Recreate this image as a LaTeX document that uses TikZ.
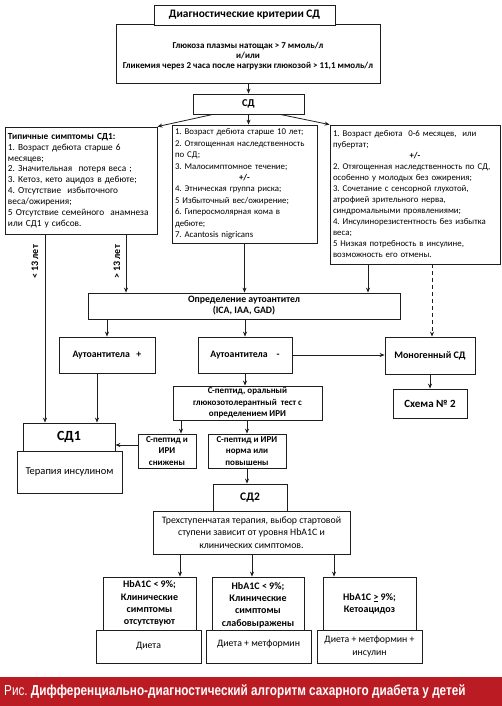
\documentclass[tikz,border=0pt]{standalone}
\usepackage{fontspec}
\setmainfont{Carlito}
\newfontfamily\capfont[FakeStretch=0.81]{Liberation Sans}
\usetikzlibrary{arrows.meta,calc}
\definecolor{capred}{RGB}{187,28,36}
\definecolor{ln}{RGB}{30,30,30}
\begin{document}
\frenchspacing
\begin{tikzpicture}[x=1pt,y=-1pt,
  box/.style={draw=ln, line width=0.8pt, fill=white, inner sep=0pt, align=center},
  listbox/.style={box, inner xsep=3pt, align=left},
  arr/.style={draw=ln, line width=0.8pt, -{Stealth[length=5pt,width=4pt]}},
  lbl/.style={font=\bfseries\fontsize{10}{12}\selectfont, rotate=90, inner sep=0pt},
  bsmall/.style={font=\bfseries\fontsize{9}{11.5}\selectfont},
  bmid/.style={font=\bfseries\fontsize{10}{12.3}\selectfont},
  nmid/.style={font=\fontsize{9.8}{12.5}\selectfont}]
\useasboundingbox (0,0) rectangle (502,706);
\fill[white] (0,0) rectangle (502,706);

% top
\node[box, minimum width=264pt, minimum height=59pt, font=\bfseries\fontsize{9}{10}\selectfont] (crit) at (248,53.5)
  {\rule{0pt}{11pt}Глюкоза плазмы натощак > 7 ммоль/л\\и/или\\Гликемия через 2 часа после нагрузки глюкозой > 11,1 ммоль/л};
\node[box, minimum width=181pt, minimum height=20pt, font=\bfseries\fontsize{11.4}{13}\selectfont] (title) at (244.5,15) {Диагностические критерии СД};
\node[box, minimum width=111pt, minimum height=20pt, font=\bfseries\fontsize{10.5}{12}\selectfont] (sd) at (248.5,104) {СД};

% three columns
\node[listbox, text width=146pt, minimum height=107pt, font=\fontsize{9.3}{10.9}\selectfont] (left) at (81,180.5)
  {{\bfseries Типичные симптомы СД1:}\\
   1. Возраст дебюта старше 6\\
   месяцев;\\
   2. Значительная~ потеря веса ;\\
   3. Кетоз, кето ацидоз в дебюте;\\
   4. Отсутствие~ избыточного\\
   веса/ожирения;\\
   5 Отсутствие семейного~ анамнеза\\
   или СД1 у сибсов.};
\node[listbox, text width=139pt, minimum height=118pt, font=\fontsize{8.8}{11.4}\selectfont] (mid) at (244.5,184)
  {1. Возраст дебюта старше 10 лет;\\
   2. Отягощенная наследственность\\
   по СД;\\
   3. Малосимптомное течение;\\
   \makebox[\linewidth]{\bfseries +/-}\\
   4. Этническая группа риска;\\
   5 Избыточный вес/ожирение;\\
   6. Гиперосмолярная кома в\\
   дебюте;\\
   7. Acantosis nigricans};
\node[listbox, text width=164pt, minimum height=139pt, font=\fontsize{8.8}{11}\selectfont] (right) at (415,194.5)
  {1. Возраст дебюта~ 0-6 месяцев,~ или\\
   пубертат;\\
   \makebox[\linewidth]{\bfseries +/-}\\
   2. Отягощенная наследственность по СД,\\
   особенно у молодых без ожирения;\\
   3. Сочетание с сенсорной глухотой,\\
   атрофией зрительного нерва,\\
   синдромальными проявлениями;\\
   4. Инсулинорезистентность без избытка\\
   веса;\\
   5 Низкая потребность в инсулине,\\
   возможность его отмены.};

% autoantibodies
\node[box, minimum width=312pt, minimum height=26pt, font=\bfseries\fontsize{9.8}{11}\selectfont] (opr) at (244,306)
  {Определение аутоантител\\(ICA, IAA, GAD)};
\node[box, minimum width=96pt, minimum height=36pt, font=\bfseries\fontsize{9.8}{11}\selectfont] (apos) at (107,355) {Аутоантитела~~ +};
\node[box, minimum width=94pt, minimum height=36pt, font=\bfseries\fontsize{9.8}{11}\selectfont] (aneg) at (245,355) {Аутоантитела~~~ -};
\node[box, minimum width=90pt, minimum height=37pt, font=\bfseries\fontsize{10}{11}\selectfont] (mono) at (430,355.5) {Моногенный СД};
\node[box, minimum width=74pt, minimum height=29pt, font=\bfseries\fontsize{11}{12}\selectfont] (schema) at (430,403.5) {Схема № 2};

\node[box, bsmall, minimum width=149pt, minimum height=34pt] (cpep) at (247.5,403)
  {С-пептид, оральный\\глюкозотолерантный~ тест с\\определением ИРИ};
\node[box, bsmall, minimum width=58pt, minimum height=34pt] (low) at (167,451)
  {С-пептид и\\ИРИ\\снижены};
\node[box, bsmall, minimum width=78pt, minimum height=34pt] (norm) at (247,451)
  {С-пептид и ИРИ\\норма или\\повышены};

\node[box, minimum width=105pt, minimum height=42pt, font=\fontsize{10.5}{12}\selectfont] (ther) at (69.5,472) {Терапия инсулином};
\node[box, minimum width=92pt, minimum height=28pt, font=\bfseries\fontsize{14}{15}\selectfont] (sd1) at (69,437) {СД1};

% type 2
\node[box, nmid, minimum width=197pt, minimum height=43pt] (three) at (251.5,532.5)
  {Трехступенчатая терапия, выбор стартовой\\ступени зависит от уровня HbA1C и\\клинических симптомов.};
\node[box, minimum width=74pt, minimum height=27pt, font=\bfseries\fontsize{11.5}{13}\selectfont] (sd2) at (250,497.5) {СД2};

\node[box, bmid, minimum width=93pt, minimum height=53pt] (hA) at (149.5,603.5)
  {HbA1C < 9\%;\\Клинические\\симптомы\\отсутствуют};
\node[box, bmid, minimum width=92pt, minimum height=53pt] (hB) at (258,603.5)
  {\rule{0pt}{10pt}HbA1C < 9\%;\\Клинические\\симптомы\\слабовыражены};
\node[box, bmid, minimum width=93pt, minimum height=53pt] (hC) at (369.5,603.5)
  {HbA1C \underline{>} 9\%;\\Кетоацидоз};
\node[box, nmid, minimum width=105pt, minimum height=33pt] (dA) at (148.5,646.5) {Диета};
\node[box, nmid, minimum width=105pt, minimum height=33pt] (dB) at (258.5,646.5) {Диета + метформин\rule[-7pt]{0pt}{7pt}};
\node[box, nmid, minimum width=105pt, minimum height=33pt] (dC) at (369.5,646.5) {Диета + метформин +\\инсулин};

% labels
\node[lbl] (lt) at (35,262) {< 13 лет};
\node[lbl] (gt) at (117,262) {> 13 лет};

% helper x-coordinates
\coordinate (x45) at (45,0);
\coordinate (x97) at (97,0);
\coordinate (x126) at (126,0);
\coordinate (x368) at (368,0);
\coordinate (x432) at (432,0);
\coordinate (x181) at (181,0);
\coordinate (x213) at (213,0);
\coordinate (x280) at (280,0);
\coordinate (x180) at (180,0);
\coordinate (x252) at (252,0);
\coordinate (x334) at (334,0);
\coordinate (y445) at (0,445);

% connectors
\draw[arr] (crit.south -| sd.north) -- (sd.north);
\draw[arr] (sd.south -| x213) -- (left.north east);
\draw[arr] (sd.south) -- (sd.south |- mid.north);
\draw[arr] (sd.south -| x280) -- (right.north west);
\draw[arr] (left.south -| x45) -- (sd1.north -| x45);
\draw[arr] (left.south -| x126) -- (opr.north -| x126);
\draw[arr] (mid.south) -- (mid.south |- opr.north);
\draw[arr] (right.south -| x368) -- (opr.north -| x368);
\draw[arr, dash pattern=on 4pt off 3pt] (right.south -| x432) -- (mono.north -| x432);
\draw[arr] (opr.south -| apos.north) -- (apos.north);
\draw[arr] (opr.south -| aneg.north) -- (aneg.north);
\draw[arr] (aneg.east) -- (aneg.east -| mono.west);
\draw[arr] (mono.south) -- (schema.north);
\draw[arr] (apos.south -| x97) -- (sd1.north -| x97);
\draw[arr] (aneg.south) -- (aneg.south |- cpep.north);
\draw[arr] (cpep.south -| x181) -- (low.north -| x181);
\draw[arr] (cpep.south -| norm.north) -- (norm.north);
\draw[arr] (low.west |- y445) -- (sd1.east |- y445);
\draw[arr] (norm.south) -- (norm.south |- sd2.north);
\draw[arr] (three.south -| x180) -- (hA.north -| x180);
\draw[arr] (three.south -| x252) -- (hB.north -| x252);
\draw[arr] (three.south -| x334) -- (hC.north -| x334);

% caption
\fill[capred] (0,677) rectangle (502,706);
\node[anchor=west, inner sep=0pt, text=white, font=\capfont\fontsize{14.5}{16}\selectfont] (cap) at (4,691.5)
  {Рис. {\bfseries Дифференциально-диагностический алгоритм сахарного диабета у детей}};
\end{tikzpicture}
\end{document}
